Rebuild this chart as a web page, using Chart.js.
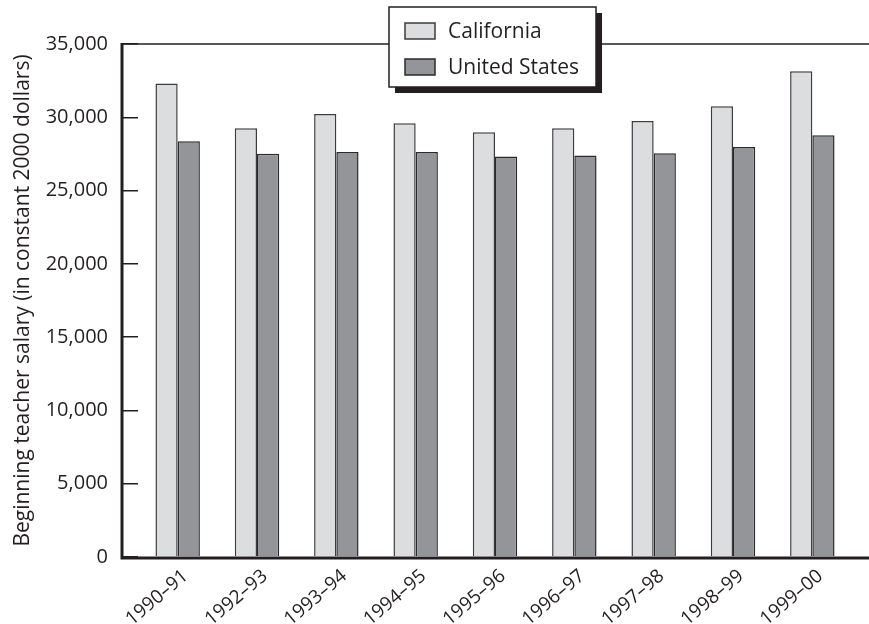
<!DOCTYPE html>
<html>
<head>
<meta charset="utf-8">
<script src="https://cdn.jsdelivr.net/npm/chart.js@4"></script>
<style>
	body { margin: 0; background: #fff; }
	#wrap { width: 869px; height: 624px; position: relative; }
</style>
</head>
<body>
<div id="wrap"><canvas id="salary"></canvas></div>
<script>
const years = ['1990–91', '1992–93', '1993–94', '1994–95', '1995–96', '1996–97', '1997–98', '1998–99', '1999–00'];
const california = [32300, 29250, 30230, 29590, 28980, 29250, 29750, 30750, 33140];
const united_states = [28360, 27520, 27640, 27640, 27320, 27390, 27540, 27980, 28770];
const y_ticks = [0, 5000, 10000, 15000, 20000, 25000, 30000, 35000];

const ink = '#231f20';
const font_family = '"Open Sans", "Noto Sans", sans-serif';

// axis lines sit 16px left of the plot, ticks point inward
const frame = {
	id: 'frame',
	afterDatasetsDraw(chart) {
		const { ctx, chartArea: area, width } = chart;
		const axis_x = area.left - 16;
		ctx.save();
		ctx.strokeStyle = ink;
		ctx.lineWidth = 1.5;
		ctx.beginPath();
		ctx.moveTo(axis_x, area.top);
		ctx.lineTo(width, area.top);
		ctx.stroke();
		ctx.lineWidth = 3;
		ctx.beginPath();
		ctx.moveTo(axis_x, area.top - 1);
		ctx.lineTo(axis_x, area.bottom + 1.5);
		ctx.moveTo(axis_x - 1.5, area.bottom + 1);
		ctx.lineTo(width, area.bottom + 1);
		ctx.stroke();
		ctx.restore();
	},
	afterDraw(chart) {
		const { ctx, chartArea: area } = chart;
		const sets = chart.data.datasets;
		ctx.save();
		ctx.font = '500 21px ' + font_family;
		const text_w = Math.max(...sets.map(d => ctx.measureText(d.label).width));
		const box_w = 16 + 30 + 13 + text_w + 17;
		const box_h = 80;
		const box_x = Math.round((area.left + area.right) / 2 - box_w / 2) - 2;
		const box_y = 7;
		ctx.fillStyle = ink;
		ctx.fillRect(box_x + 6, box_y + 6, box_w, box_h);
		ctx.fillStyle = '#fff';
		ctx.fillRect(box_x, box_y, box_w, box_h);
		ctx.strokeStyle = ink;
		ctx.lineWidth = 1.5;
		ctx.strokeRect(box_x, box_y, box_w, box_h);
		sets.forEach((d, i) => {
			const row_y = box_y + 24 + i * 36;
			ctx.fillStyle = d.backgroundColor;
			ctx.fillRect(box_x + 16, row_y - 8, 30, 16);
			ctx.strokeStyle = d.borderColor;
			ctx.lineWidth = 1.5;
			ctx.strokeRect(box_x + 16, row_y - 8, 30, 16);
			ctx.fillStyle = ink;
			ctx.textBaseline = 'middle';
			ctx.fillText(d.label, box_x + 59, row_y + 1);
		});
		ctx.restore();
	}
};

new Chart(document.getElementById('salary'), {
	type: 'bar',
	plugins: [frame],
	data: {
		labels: years,
		datasets: [{
			label: 'California',
			data: california,
			backgroundColor: '#dcdddf',
			borderColor: '#3c3c3e',
			borderWidth: 1.5,
		}, {
			label: 'United States',
			data: united_states,
			backgroundColor: '#939598',
			borderColor: '#2a2a2c',
			borderWidth: 1.5,
		}],
	},
	options: {
		responsive: true,
		maintainAspectRatio: false,
		animation: false,
		layout: { padding: { top: 44, right: 17, left: 0, bottom: 0 } },
		datasets: { bar: { categoryPercentage: 0.56, barPercentage: 1.0 } },
		plugins: {
			legend: { display: false },
			tooltip: { enabled: false },
		},
		scales: {
			x: {
				grid: { display: false },
				border: { display: false },
				ticks: {
					color: ink,
					font: { family: font_family, size: 19, weight: '500' },
					autoSkip: false,
					minRotation: 40,
					maxRotation: 40,
					padding: 0,
					labelOffset: 8,
				},
				afterFit: s => { s.height = 67; },
			},
			y: {
				min: 0,
				max: 35000,
				afterBuildTicks: s => { s.ticks = y_ticks.map(v => ({ value: v })); },
				grid: {
					drawOnChartArea: false,
					drawTicks: true,
					tickLength: 16,
					color: ink,
					lineWidth: 1.5,
				},
				border: { display: false },
				ticks: {
					color: ink,
					padding: 14,
					font: { family: font_family, size: 20, weight: '500' },
					callback: v => v.toLocaleString('en-US'),
				},
				title: {
					display: true,
					text: 'Beginning teacher salary (in constant 2000 dollars)',
					color: ink,
					font: { family: font_family, size: 21, weight: '500' },
					padding: { top: 10, bottom: 0 },
				},
				afterFit: s => { s.width = 138; },
			},
		},
	},
});
</script>
</body>
</html>
